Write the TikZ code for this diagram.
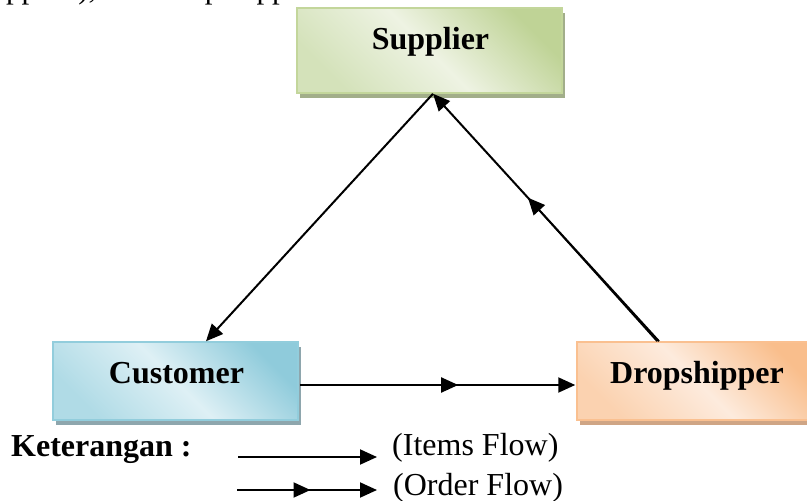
\documentclass[tikz,border=0pt]{standalone}
\usepackage{fontspec}
\setmainfont{Liberation Serif}
\usetikzlibrary{arrows.meta,decorations.markings,calc}

% box colours: light, mid, dark, border, shadow
\definecolor{supL}{HTML}{EEF3E3}
\definecolor{supM}{HTML}{D4E2BA}
\definecolor{supD}{HTML}{BFD396}
\definecolor{supB}{HTML}{C3D69B}
\definecolor{supS}{HTML}{A2AE8A}
\definecolor{cusL}{HTML}{DEF0F5}
\definecolor{cusM}{HTML}{B0DBE6}
\definecolor{cusD}{HTML}{8FCBDB}
\definecolor{cusB}{HTML}{92CDDC}
\definecolor{cusS}{HTML}{8EA6AD}
\definecolor{droL}{HTML}{FDEBDD}
\definecolor{droM}{HTML}{FBD2B0}
\definecolor{droD}{HTML}{F9BE8C}
\definecolor{droB}{HTML}{FAC090}
\definecolor{droS}{HTML}{CFA585}

\pgfdeclarehorizontalshading{supshade}{100bp}{color(0bp)=(supM); color(25bp)=(supM); color(50bp)=(supL); color(75bp)=(supD); color(100bp)=(supD)}
\pgfdeclarehorizontalshading{cusshade}{100bp}{color(0bp)=(cusM); color(25bp)=(cusM); color(50bp)=(cusL); color(75bp)=(cusD); color(100bp)=(cusD)}
\pgfdeclarehorizontalshading{droshade}{100bp}{color(0bp)=(droM); color(25bp)=(droM); color(50bp)=(droL); color(75bp)=(droD); color(100bp)=(droD)}

\newcommand\bigtext{\fontsize{32}{38}\selectfont}

\tikzset{
  box/.style={draw, line width=1.5pt, inner sep=0pt, shading angle=45,
    preaction={fill=#1, transform canvas={xshift=3pt,yshift=-5pt}}},
  boxlabel/.style={anchor=base, font=\bfseries\bigtext, inner sep=0pt},
  plaintext/.style={anchor=base west, font=\bigtext, inner sep=0pt},
  flow/.style={line width=2pt, -{Triangle[length=17pt,width=15pt]}},
  order/.style={flow, postaction={decorate},
    decoration={markings, mark=at position #1 with {\arrow{Triangle[length=17pt,width=15pt]}}}},
}

\begin{document}
\begin{tikzpicture}[x=1pt,y=-1pt]
\useasboundingbox (0,0) rectangle (807,501);
\clip (0,0) rectangle (807,501);
\fill[white] (0,0) rectangle (807,501);

% tail of the preceding line of text
\node[plaintext, font=\fontsize{31}{37}\selectfont] (prevline) at (-32,-1.7) {(supplier), atau dropshipper};

% the three parties
\node[box=supS, draw=supB, shading=supshade, minimum width=265pt, minimum height=85pt] (sup) at (429.5,50.5) {};
\node[box=cusS, draw=cusB, shading=cusshade, minimum width=245pt, minimum height=78pt] (cust) at (175.5,381) {};
\node[box=droS, draw=droB, shading=droshade, minimum width=240pt, minimum height=78pt] (drop) at (697,381) {};

\node[boxlabel] (suptxt) at (430.5,49) {Supplier};
\node[boxlabel] (custtxt) at (176.5,383) {Customer};
\node[boxlabel] (droptxt) at (697,383) {Dropshipper};

% connectors
\coordinate (supb) at ([xshift=3.5pt]sup.south);
\coordinate (dropt) at ([xshift=-38pt]drop.north);
\coordinate (dropt2) at ([xshift=-40pt]drop.north);
\coordinate (dmid) at ($(dropt)!0.57!(supb)$);

\draw[flow] (supb) -- ([xshift=30.5pt]cust.north);
\draw[order=0.58] (dropt) -- (supb);
\draw[line width=1.5pt] (dropt2) -- (dmid);
\draw[order=0.575] ([xshift=1pt,yshift=-4pt]cust.east) -- ([xshift=-1pt,yshift=-4pt]drop.west);

% legend
\node[plaintext, font=\bfseries\bigtext] (ket) at (11,456) {Keterangan :};
\node[plaintext] (items) at (392,455.5) {(Items Flow)};
\node[plaintext] (orders) at (393,495.5) {(Order Flow)};

\coordinate (l1a) at (238,457);
\coordinate (l1b) at (377,457);
\coordinate (l2a) at (237,490);
\coordinate (l2b) at (377,490);
\draw[flow] (l1a) -- (l1b);
\draw[order=0.525] (l2a) -- (l2b);
\end{tikzpicture}
\end{document}
